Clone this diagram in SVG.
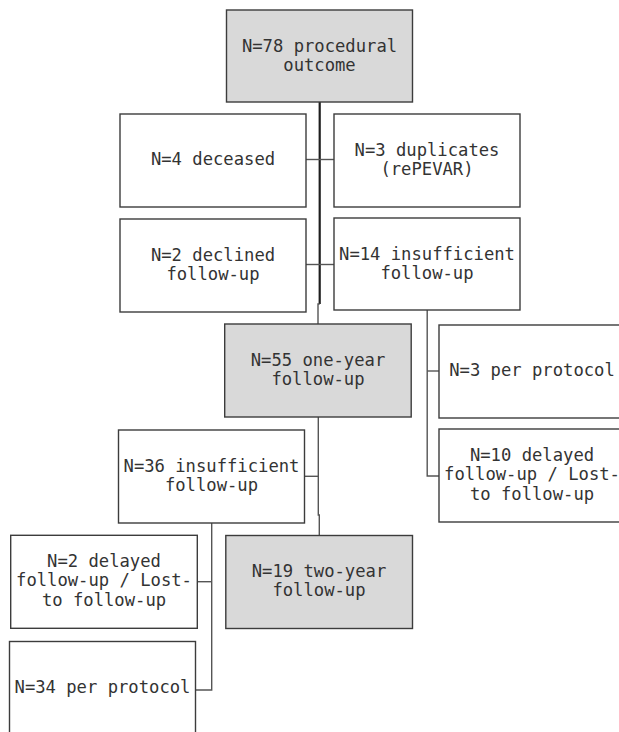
<svg xmlns="http://www.w3.org/2000/svg" width="619" height="732" viewBox="0 0 619 732">
<style>
.box{fill:#ffffff;stroke:#3c3c3c;stroke-width:1.4}
.grey{fill:#d9d9d9}
.t{font-family:"DejaVu Sans Mono","Liberation Mono",monospace;font-size:17.2px;fill:#333333;text-anchor:middle}
.c{fill:none;stroke:#555555;stroke-width:1.4}
.trunk{fill:none;stroke:#1e1e1e;stroke-width:2.2}
</style>
<rect width="619" height="732" fill="#ffffff"/>
<g id="connectors">
<path class="trunk" d="M319.7 102 V304"/>
<path class="c" d="M319.7 304 H318 V324"/>
<path class="c" d="M306 159.5 H334"/>
<path class="c" d="M306 264.5 H334"/>
<path class="c" d="M427.2 310 V476 H439"/>
<path class="c" d="M427.2 371 H439"/>
<path class="c" d="M318.3 417 V515 H319.3 V535.5"/>
<path class="c" d="M304.7 476.3 H318.3"/>
<path class="c" d="M211.7 523 V690 H195.7"/>
<path class="c" d="M197.3 581.7 H211.7"/>
</g>
<g id="n78">
<rect class="box grey" x="226.5" y="10" width="186" height="92"/>
<text class="t" x="319.5" y="51.5">N=78 procedural</text>
<text class="t" x="319.5" y="70.8">outcome</text>
</g>
<g id="n4">
<rect class="box" x="120" y="114" width="186" height="93"/>
<text class="t" x="213" y="165.3">N=4 deceased</text>
</g>
<g id="n3dup">
<rect class="box" x="334" y="114" width="186" height="93"/>
<text class="t" x="427" y="155.6">N=3 duplicates</text>
<text class="t" x="427" y="174.9">(rePEVAR)</text>
</g>
<g id="n2declined">
<rect class="box" x="120" y="219" width="186" height="93"/>
<text class="t" x="213" y="260.5">N=2 declined</text>
<text class="t" x="213" y="279.8">follow-up</text>
</g>
<g id="n14">
<rect class="box" x="334" y="218" width="186" height="92"/>
<text class="t" x="427" y="259.8">N=14 insufficient</text>
<text class="t" x="427" y="279.1">follow-up</text>
</g>
<g id="n55">
<rect class="box grey" x="224.7" y="324" width="186.5" height="93"/>
<text class="t" x="318" y="365.7">N=55 one-year</text>
<text class="t" x="318" y="385">follow-up</text>
</g>
<g id="n3pp">
<rect class="box" x="439" y="325" width="186" height="93"/>
<text class="t" x="532" y="376.3">N=3 per protocol</text>
</g>
<g id="n10">
<rect class="box" x="439" y="429" width="186" height="93"/>
<text class="t" x="532" y="461">N=10 delayed</text>
<text class="t" x="532" y="480.3">follow-up / Lost-</text>
<text class="t" x="532" y="499.6">to follow-up</text>
</g>
<g id="n36">
<rect class="box" x="118.5" y="430" width="186" height="93"/>
<text class="t" x="211.5" y="471.7">N=36 insufficient</text>
<text class="t" x="211.5" y="491">follow-up</text>
</g>
<g id="n2delayed">
<rect class="box" x="10.7" y="535.3" width="186.6" height="93"/>
<text class="t" x="104" y="567">N=2 delayed</text>
<text class="t" x="104" y="586.3">follow-up / Lost-</text>
<text class="t" x="104" y="605.6">to follow-up</text>
</g>
<g id="n19">
<rect class="box grey" x="225.8" y="535.5" width="186.7" height="93"/>
<text class="t" x="319" y="576.5">N=19 two-year</text>
<text class="t" x="319" y="595.8">follow-up</text>
</g>
<g id="n34">
<rect class="box" x="9.5" y="641.5" width="186" height="94"/>
<text class="t" x="102.5" y="693.3">N=34 per protocol</text>
</g>
</svg>
